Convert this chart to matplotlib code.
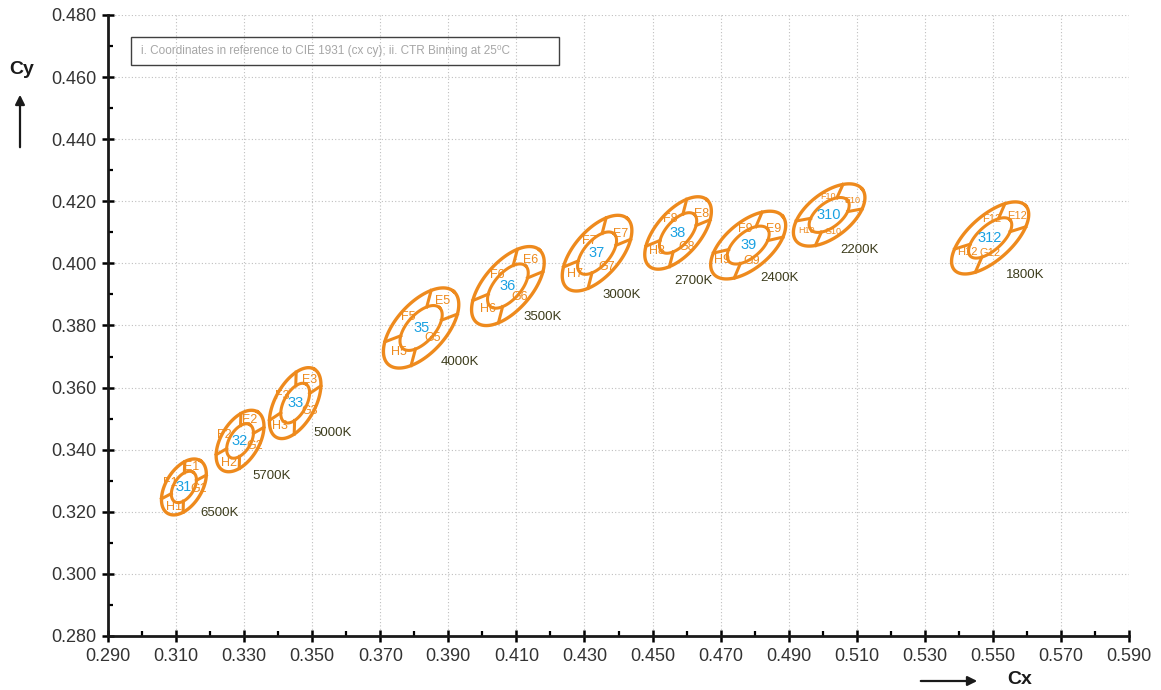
"""CIE 1931 chromaticity binning chart: ANSI-style bins drawn as split ellipses."""

import matplotlib

matplotlib.use("Agg")
import matplotlib.pyplot as plt  # noqa: E402
import numpy as np  # noqa: E402
from matplotlib.ticker import FixedLocator, FormatStrFormatter  # noqa: E402
from matplotlib.transforms import Affine2D, ScaledTranslation  # noqa: E402

# ---- data --------------------------------------------------------------------
bin_codes = ["31", "32", "33", "35", "36", "37", "38", "39", "310", "312"]
bin_suffix = ["1", "2", "3", "5", "6", "7", "8", "9", "10", "12"]
cct_labels = ["6500K", "5700K", "5000K", "4000K", "3500K", "3000K",
              "2700K", "2400K", "2200K", "1800K"]
center_x = [0.3123, 0.3288, 0.3450, 0.3820, 0.4075, 0.4337, 0.4575, 0.4781, 0.5019, 0.5492]
center_y = [0.3280, 0.3428, 0.3550, 0.3792, 0.3927, 0.4033, 0.4098, 0.4059, 0.4156, 0.4082]

x_min, x_max, x_step = 0.290, 0.590, 0.020
y_min, y_max, y_step = 0.280, 0.480, 0.020
note = "i. Coordinates in reference to CIE 1931 (cx cy); ii. CTR Binning at 25\u2070C"

# ---- styling (pixel sizes/offsets, figure is drawn at 100 dpi) ----------------
# outer ellipse semi-axes (px) and tilt (deg)
shape = [(31, 18, 58), (34, 19, 59), (39, 20, 61), (49, 25, 48), (48, 24, 49),
         (46, 23, 49), (44, 22, 49), (45, 23, 40), (42, 22, 38), (48, 22, 42)]
INNER = 0.56
# sub-bin label offsets E, F, G, H (px, y down)
sub_off = [
    [(8, -20), (-14, -4), (15, 2), (-10, 20)],
    [(10, -21), (-16, -6), (15, 5), (-11, 22)],
    [(14, -23), (-13, -7), (14, 8), (-15, 23)],
    [(21, -27), (-13, -11), (12, 10), (-22, 24)],
    [(23, -26), (-11, -11), (12, 11), (-20, 23)],
    [(24, -19), (-8, -12), (10, 14), (-22, 21)],
    [(24, -19), (-8, -14), (9, 14), (-21, 18)],
    [(25, -16), (-3, -16), (4, 16), (-26, 15)],
    [(23, -14), (-1, -18), (4, 17), (-23, 16)],
    [(27, -22), (2, -19), (0, 15), (-23, 14)],
]
sub_size = [9] * 8 + [6.5, 8]
cct_off = [(16, 26), (12, 35), (18, 30), (20, 34), (16, 31), (5, 42),
           (-4, 48), (12, 33), (11, 35), (16, 37)]

ORANGE = "#EE8A1D"
BLUE = "#1BA1E2"
OLIVE = "#3C3C1C"
TICK = "#333333"

plt.rcParams["font.family"] = ["Liberation Sans", "DejaVu Sans"]

W, H, DPI = 1161, 690, 100
fig = plt.figure(figsize=(W / DPI, H / DPI), dpi=DPI)
ax = fig.add_axes([108 / W, 1 - 636 / H, (1129 - 108) / W, (636 - 15) / H])
ax.set_xlim(x_min, x_max)
ax.set_ylim(y_min, y_max)

x_ticks = np.arange(x_min, x_max + 1e-9, x_step)
y_ticks = np.arange(y_min, y_max + 1e-9, y_step)
ax.xaxis.set_major_locator(FixedLocator(x_ticks))
ax.xaxis.set_minor_locator(FixedLocator(x_ticks[:-1] + x_step / 2))
ax.yaxis.set_major_locator(FixedLocator(y_ticks))
ax.yaxis.set_minor_locator(FixedLocator(y_ticks[:-1] + y_step / 2))
ax.xaxis.set_major_formatter(FormatStrFormatter("%.3f"))
ax.yaxis.set_major_formatter(FormatStrFormatter("%.3f"))
ax.tick_params(which="major", direction="inout", length=9, width=1.8,
               labelsize=13, labelcolor=TICK, pad=4)
ax.tick_params(which="minor", direction="in", length=3.5, width=1.6)
ax.grid(True, which="major", ls=(0, (1, 2)), lw=0.8, color="#BFBFBF")
ax.set_axisbelow(True)
for side in ("top", "right"):
    ax.spines[side].set_visible(False)
for side in ("left", "bottom"):
    ax.spines[side].set_linewidth(2.0)
    ax.spines[side].set_color("#1A1A1A")

t = np.linspace(0, 2 * np.pi, 121)
for i in range(len(bin_codes)):
    a, b, ang = shape[i]
    tr = Affine2D().rotate_deg(ang) + ScaledTranslation(center_x[i], center_y[i], ax.transData)
    ax.plot(a * np.cos(t), b * np.sin(t), color=ORANGE, lw=2.4, transform=tr, zorder=3)
    ax.plot(INNER * a * np.cos(t), INNER * b * np.sin(t), color=ORANGE, lw=2.2,
            transform=tr, zorder=3)
    for s in np.deg2rad([45, 135, 225, 315]):
        ax.plot([INNER * a * np.cos(s), a * np.cos(s)],
                [INNER * b * np.sin(s), b * np.sin(s)],
                color=ORANGE, lw=2.2, transform=tr, zorder=3)

    ax.annotate(bin_codes[i], (center_x[i], center_y[i]), color=BLUE, fontsize=10.5,
                ha="center", va="center", zorder=4)
    for letter, (dx, dy) in zip("EFGH", sub_off[i]):
        ax.annotate(letter + bin_suffix[i], (center_x[i], center_y[i]),
                    xytext=(dx * 0.72, -dy * 0.72), textcoords="offset points",
                    color=ORANGE, fontsize=sub_size[i], ha="center", va="center",
                    zorder=4)
    dx, dy = cct_off[i]
    ax.annotate(cct_labels[i], (center_x[i], center_y[i]),
                xytext=(dx * 0.72, -dy * 0.72), textcoords="offset points",
                color=OLIVE, fontsize=9.5, ha="left", va="center", zorder=4)

# note box
fig.text(141 / W, 1 - 51 / H, note, color="#A6A6A6", fontsize=8.5, ha="left",
         va="center")
fig.patches.append(plt.Rectangle((131 / W, 1 - 65 / H), (559 - 131) / W, 28 / H,
                                 transform=fig.transFigure, fill=False,
                                 ec="#404040", lw=1.0))

# axis titles with arrows
fig.text(22 / W, 1 - 70 / H, "Cy", fontsize=14, fontweight="bold", ha="center",
         va="center", color="#1A1A1A")
fig.text(1020 / W, 1 - 679 / H, "Cx", fontsize=14, fontweight="bold", ha="center",
         va="center", color="#1A1A1A")
arrow = dict(arrowstyle="-|>", color="#1A1A1A", lw=1.6, mutation_scale=14)
fig.add_artist(matplotlib.patches.FancyArrowPatch(
    (20 / W, 1 - 150 / H), (20 / W, 1 - 92 / H), transform=fig.transFigure, **arrow))
fig.add_artist(matplotlib.patches.FancyArrowPatch(
    (918 / W, 1 - 681 / H), (980 / W, 1 - 681 / H), transform=fig.transFigure, **arrow))

fig.savefig("out.png", dpi=DPI)
plt.close(fig)
